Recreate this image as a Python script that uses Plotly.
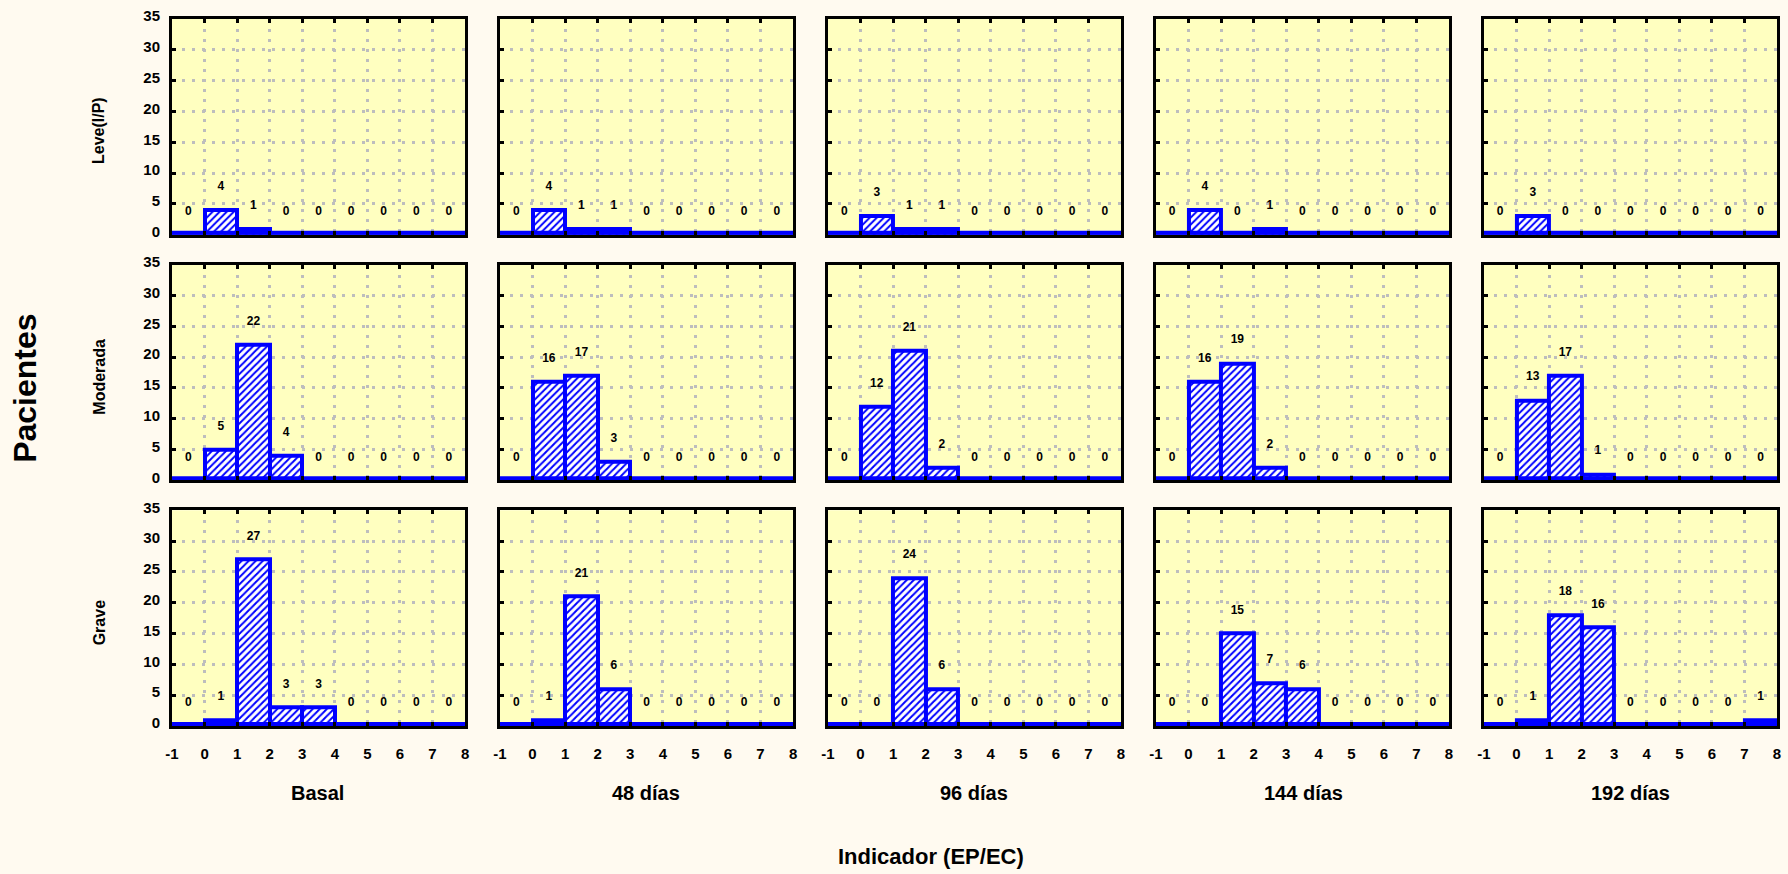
import plotly.graph_objects as go
from plotly.subplots import make_subplots

# ---- data ----
bin_edges = [-1, 0, 1, 2, 3, 4, 5, 6, 7, 8]
x_ticks = [-1, 0, 1, 2, 3, 4, 5, 6, 7, 8]
y_ticks = [0, 5, 10, 15, 20, 25, 30, 35]
periods = ["Basal", "48 días", "96 días", "144 días", "192 días"]
severities = ["Leve(I/P)", "Moderada", "Grave"]

leve_basal = [0, 4, 1, 0, 0, 0, 0, 0, 0]
leve_48 = [0, 4, 1, 1, 0, 0, 0, 0, 0]
leve_96 = [0, 3, 1, 1, 0, 0, 0, 0, 0]
leve_144 = [0, 4, 0, 1, 0, 0, 0, 0, 0]
leve_192 = [0, 3, 0, 0, 0, 0, 0, 0, 0]

moderada_basal = [0, 5, 22, 4, 0, 0, 0, 0, 0]
moderada_48 = [0, 16, 17, 3, 0, 0, 0, 0, 0]
moderada_96 = [0, 12, 21, 2, 0, 0, 0, 0, 0]
moderada_144 = [0, 16, 19, 2, 0, 0, 0, 0, 0]
moderada_192 = [0, 13, 17, 1, 0, 0, 0, 0, 0]

grave_basal = [0, 1, 27, 3, 3, 0, 0, 0, 0]
grave_48 = [0, 1, 21, 6, 0, 0, 0, 0, 0]
grave_96 = [0, 0, 24, 6, 0, 0, 0, 0, 0]
grave_144 = [0, 0, 15, 7, 6, 0, 0, 0, 0]
grave_192 = [0, 1, 18, 16, 0, 0, 0, 0, 1]

rows_data = [
    [leve_basal, leve_48, leve_96, leve_144, leve_192],
    [moderada_basal, moderada_48, moderada_96, moderada_144, moderada_192],
    [grave_basal, grave_48, grave_96, grave_144, grave_192],
]

# ---- style ----
W, H = 1788, 874
ML, MR, MT, MB = 172, 7, 18, 148
PW, PH = W - ML - MR, H - MT - MB
BLUE = "#0000FF"
FONT = "Liberation Sans, Arial, sans-serif"

centers = [(a + b) / 2 for a, b in zip(bin_edges[:-1], bin_edges[1:])]
widths = [b - a for a, b in zip(bin_edges[:-1], bin_edges[1:])]

fig = make_subplots(rows=3, cols=5,
                    horizontal_spacing=35 / PW,
                    vertical_spacing=30 / PH)

for r, row in enumerate(rows_data):
    for c, counts in enumerate(row):
        fig.add_trace(go.Bar(
            x=centers, y=counts, width=widths,
            marker=dict(color="white",
                        line=dict(color=BLUE, width=4),
                        pattern=dict(shape="/", fgcolor=BLUE, bgcolor="white",
                                     size=5, solidity=0.4, fillmode="replace")),
            showlegend=False, hoverinfo="skip"), row=r + 1, col=c + 1)
        fig.add_trace(go.Scatter(
            x=[bin_edges[0], bin_edges[-1]], y=[0, 0], mode="lines",
            line=dict(color=BLUE, width=8), showlegend=False, hoverinfo="skip"),
            row=r + 1, col=c + 1)
        fig.add_trace(go.Scatter(
            x=centers, y=[v + 3.7 for v in counts], mode="text",
            text=[str(v) for v in counts],
            textfont=dict(family=FONT, size=12, color="black", weight="bold"),
            cliponaxis=False, showlegend=False, hoverinfo="skip"),
            row=r + 1, col=c + 1)

grid = dict(showgrid=True, gridcolor="#BDBDBD", griddash="3px,7px", gridwidth=3,
            showline=True, linecolor="black", linewidth=3,
            ticks="inside", ticklen=4, tickwidth=3, tickcolor="black",
            zeroline=False,
            tickfont=dict(family=FONT, size=15, color="black", weight="bold"))

for r in range(3):
    for c in range(5):
        fig.update_xaxes(range=[bin_edges[0], bin_edges[-1]], tickvals=x_ticks,
                         ticktext=[str(t) for t in x_ticks],
                         mirror="ticks", showticklabels=(r == 2),
                         ticklabelstandoff=12, row=r + 1, col=c + 1, **grid)
        fig.update_yaxes(range=[0, 35], tickvals=y_ticks,
                         ticktext=[str(t) for t in y_ticks],
                         mirror=True, showticklabels=(c == 0),
                         ticklabelstandoff=6, ticklabelshift=-3,
                         row=r + 1, col=c + 1, **grid)

annotations = []
row_px = [130, 376, 623]
for lab, py in zip(severities, row_px):
    annotations.append(dict(text=lab, xref="paper", yref="paper",
                            x=(99 - ML) / PW, y=(H - MB - py) / PH,
                            textangle=-90, showarrow=False,
                            xanchor="center", yanchor="middle",
                            font=dict(family=FONT, size=16, color="black", weight="bold")))

col_px = [318, 647, 976, 1306, 1634]
for lab, px in zip(periods, col_px):
    annotations.append(dict(text=lab, xref="paper", yref="paper",
                            x=(px - ML) / PW, y=(H - MB - 793) / PH,
                            showarrow=False, xanchor="center", yanchor="middle",
                            font=dict(family=FONT, size=20, color="black", weight="bold")))

annotations.append(dict(text="Indicador (EP/EC)", xref="paper", yref="paper",
                        x=(933 - ML) / PW, y=(H - MB - 857) / PH,
                        showarrow=False, xanchor="center", yanchor="middle",
                        font=dict(family=FONT, size=22, color="black", weight="bold")))
annotations.append(dict(text="Pacientes", xref="paper", yref="paper",
                        x=(25 - ML) / PW, y=(H - MB - 388) / PH, textangle=-90,
                        showarrow=False, xanchor="center", yanchor="middle",
                        font=dict(family=FONT, size=32, color="black", weight="bold")))

fig.update_layout(
    width=W, height=H,
    margin=dict(l=ML, r=MR, t=MT, b=MB),
    paper_bgcolor="#FFFAF0", plot_bgcolor="#FFFFC0",
    bargap=0, showlegend=False,
    annotations=annotations,
)

fig.write_html("out.html",
               config={"displayModeBar": False},
               post_script="document.body.style.margin='0';"
                           "document.body.style.padding='0';"
                           "document.body.style.overflow='hidden';")
